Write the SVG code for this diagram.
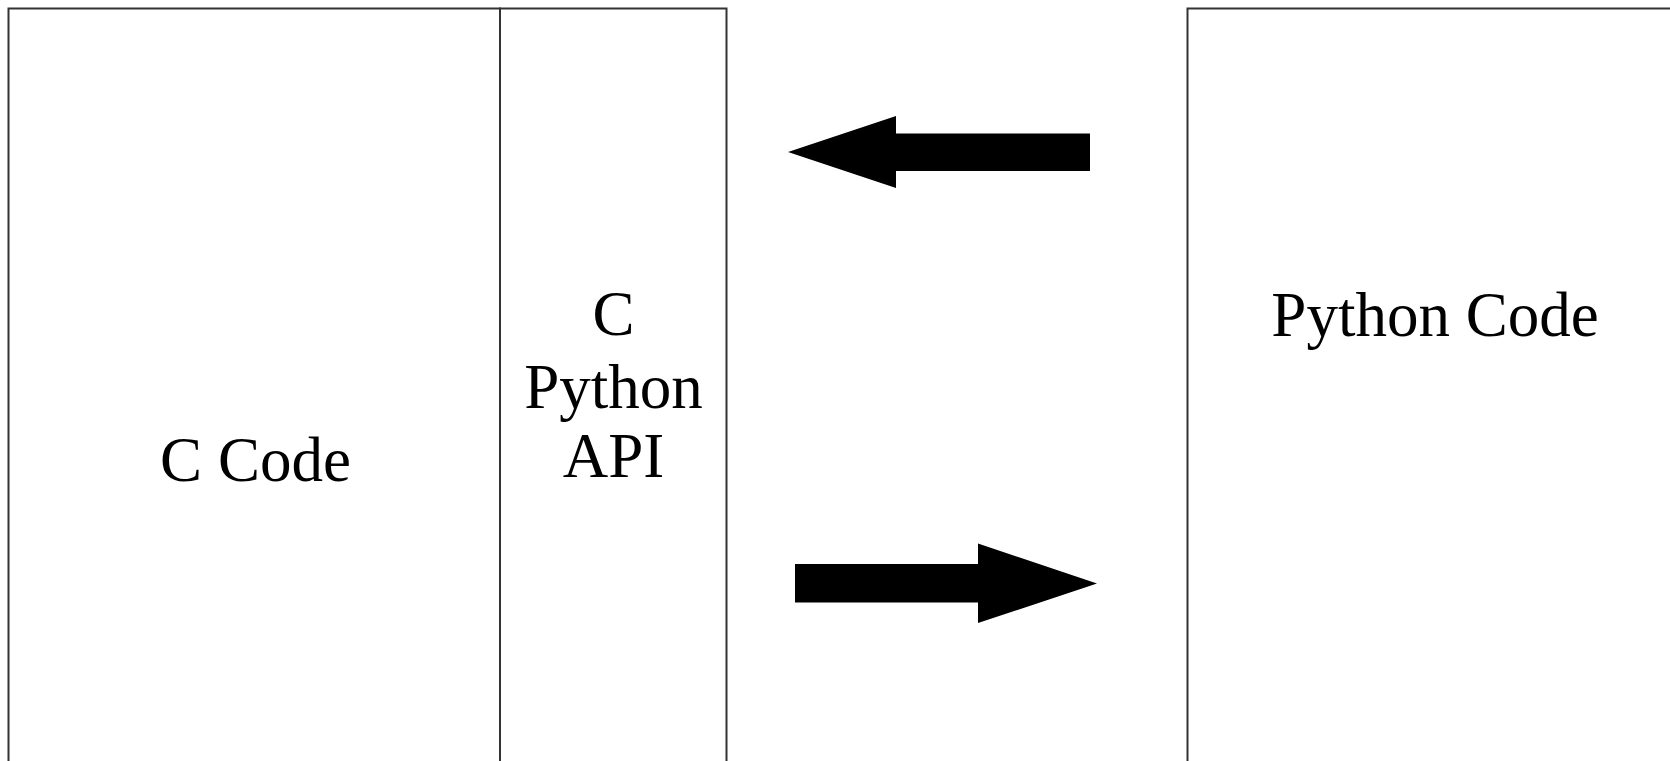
<svg xmlns="http://www.w3.org/2000/svg" width="1670" height="761" viewBox="0 0 1670 761">
<style>
.box{fill:#fff;stroke:#333;stroke-width:2}
.lbl{font-family:"Liberation Serif","Times New Roman",serif;font-size:63px;fill:#000;text-anchor:middle}
.arr{fill:#000;stroke:none}
</style>
<rect width="1670" height="761" fill="#fff"/>
<g id="c-code">
<rect class="box" x="8.5" y="8.5" width="491.5" height="800"/>
<text class="lbl" x="255.5" y="481">C Code</text>
</g>
<g id="c-python-api">
<rect class="box" x="500" y="8.5" width="226.5" height="800"/>
<text class="lbl" x="613.5" y="335">C</text>
<text class="lbl" x="613.5" y="408">Python</text>
<text class="lbl" x="613.5" y="477">API</text>
</g>
<g id="python-code">
<rect class="box" x="1187.5" y="8.5" width="600" height="800"/>
<text class="lbl" x="1435" y="336">Python Code</text>
</g>
<g id="connectors">
<polygon class="arr" points="1090,133.5 896,133.5 896,116 788,152 896,188 896,171 1090,171"/>
<polygon class="arr" points="795,564 978,564 978,543.5 1097,583.5 978,623 978,602.5 795,602.5"/>
</g>
</svg>
